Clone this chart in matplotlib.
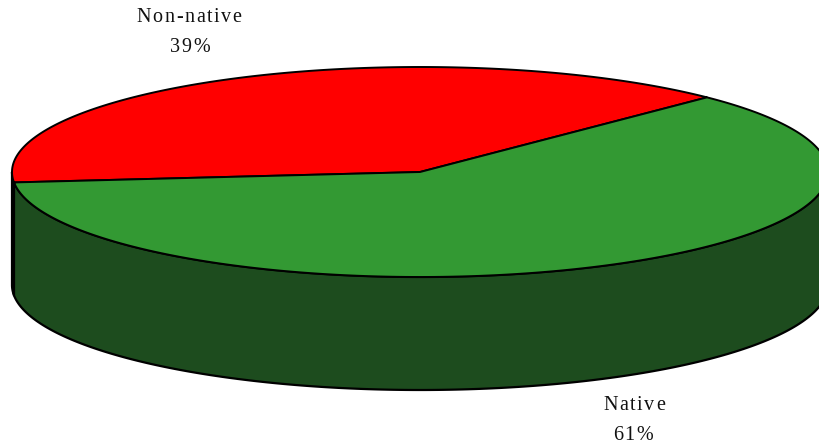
import numpy as np
import matplotlib
matplotlib.use("Agg")
import matplotlib.pyplot as plt
from matplotlib.patches import Polygon

# Data
categories = ["Non-native", "Native"]
shares = [39, 61]
top_colors = ["#FF0000", "#339933"]
side_colors = ["#8B0000", "#1D4C1E"]

# 3D pie geometry (pixel space)
cx, cy = 420.0, 172.0
a, b = 408.0, 105.0
depth = 113.0
start_angle = 45.3  # degrees, counterclockwise

fig = plt.figure(figsize=(8.2, 4.45), dpi=100)
ax = fig.add_axes([0, 0, 1, 1])
ax.set_xlim(0, 820)
ax.set_ylim(445, 0)
ax.axis("off")


def ell(t_deg, dy=0.0):
    t = np.radians(t_deg)
    return cx + a * np.cos(t), cy - b * np.sin(t) + dy


# wedge angle spans
spans = []
ang = start_angle
for s in shares:
    span = s / sum(shares) * 360.0
    spans.append((ang, ang + span))
    ang += span

# side walls (front half, 180..360 deg)
for (t0, t1), col in zip(spans, side_colors):
    for off in (0, 360, -360):
        lo = max(t0 + off, 180.0)
        hi = min(t1 + off, 360.0)
        if hi > lo:
            ts = np.linspace(lo, hi, 200)
            xt, yt = ell(ts)
            xb, yb = ell(ts[::-1], depth)
            pts = np.column_stack([np.concatenate([xt, xb]), np.concatenate([yt, yb])])
            ax.add_patch(Polygon(pts, closed=True, facecolor=col, edgecolor="black",
                                 linewidth=1.6, joinstyle="round", zorder=1))

# top faces
for (t0, t1), col in zip(spans, top_colors):
    ts = np.linspace(t0, t1, 400)
    xs, ys = ell(ts)
    pts = np.vstack([[cx, cy], np.column_stack([xs, ys])])
    ax.add_patch(Polygon(pts, closed=True, facecolor=col, edgecolor="black",
                         linewidth=1.4, joinstyle="round", zorder=2))

# labels, drawn with a little letter tracking
renderer = fig.canvas.get_renderer()
font = dict(family=["Liberation Serif", "DejaVu Serif"], fontsize=14.5, color="#111111")
tracking = 1.6  # px between glyphs


def spaced_text(x_center, y, s):
    widths = []
    for ch in s:
        t = ax.text(0, 0, ch, **font)
        widths.append(t.get_window_extent(renderer).width)
        t.remove()
    total = sum(widths) + tracking * (len(s) - 1)
    x = x_center - total / 2
    for ch, w in zip(s, widths):
        ax.text(x, y, ch, ha="left", va="center", **font)
        x += w + tracking


spaced_text(189, 18, categories[0])
spaced_text(190, 48, f"{shares[0]}%")
spaced_text(634, 405, categories[1])
spaced_text(633, 435, f"{shares[1]}%")

fig.savefig("out.png", dpi=100)
